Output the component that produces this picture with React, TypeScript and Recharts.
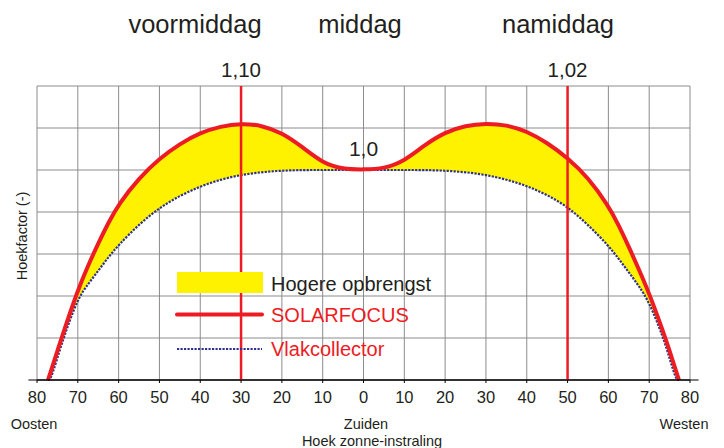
import { ComposedChart, Area, Line, XAxis, YAxis, CartesianGrid, ReferenceLine, ReferenceDot } from 'recharts'

// invalshoek (negatief = oost, positief = west)
const angles = [
  -77.3, -76.7, -75, -73.5, -70, -67.5, -65, -62.5, -60, -55, -50, -45, -40, -35, -30, -25, -20, -15, -10, -5,
  0, 5, 10, 15, 20, 25, 30, 35, 40, 45, 50, 55, 60, 62.5, 65, 67.5, 70, 73.5, 75, 76.6, 77.3,
]
const solarfocus = [
  0, 0.036, 0.139, 0.229, 0.428, 0.544, 0.651, 0.749, 0.838, 0.962, 1.055, 1.125, 1.178, 1.208, 1.222, 1.213, 1.178, 1.11, 1.033, 1.004,
  1.002, 1.006, 1.042, 1.12, 1.18, 1.212, 1.222, 1.215, 1.185, 1.13, 1.058, 0.965, 0.83, 0.738, 0.635, 0.525, 0.413, 0.227, 0.139, 0.042, 0,
]
const vlakcollector = [
  0, 0, 0.105, 0.2, 0.39, 0.456, 0.52, 0.585, 0.643, 0.742, 0.82, 0.878, 0.922, 0.955, 0.977, 0.99, 0.997, 1.0, 1.0, 1.0,
  1.0, 1.0, 1.0, 1.0, 0.997, 0.99, 0.977, 0.955, 0.925, 0.882, 0.825, 0.74, 0.64, 0.578, 0.513, 0.447, 0.372, 0.2, 0.103, 0, 0,
]
const xTicks = [-80, -70, -60, -50, -40, -30, -20, -10, 0, 10, 20, 30, 40, 50, 60, 70, 80]
const yTicks = [0, 0.2, 0.4, 0.6, 0.8, 1.0, 1.2, 1.4]
const markers = [
  { x: -30, label: '1,10' },
  { x: 50, label: '1,02' },
]

const data = angles.map((a, i) => ({
  a,
  solar: solarfocus[i],
  vlak: vlakcollector[i],
  range: [vlakcollector[i], solarfocus[i]],
}))

const RED = '#ed1c24'
const BLUE = '#2e3192'
const YELLOW = '#fff200'
const TEXT = '#231f20'
const FONT = '"Liberation Sans", Arial, sans-serif'

export default function App() {
  return (
    <div style={{ position: 'absolute', left: 0, top: 0, width: 724, height: 448, background: '#fff', fontFamily: FONT }}>
      <ComposedChart width={724} height={448} data={data} margin={{ top: 86, right: 34, left: 37, bottom: 38 }}>
        <CartesianGrid stroke="#8c8c8c" strokeWidth={1} />
        <XAxis
          dataKey="a"
          type="number"
          domain={[-80, 80]}
          ticks={xTicks}
          tickFormatter={(v: number) => String(Math.abs(v))}
          interval={0}
          height={30}
          axisLine={{ stroke: '#000' }}
          tickLine={{ stroke: '#000' }}
          tickSize={3}
          tickMargin={8}
          tick={{ fontSize: 16.5, fill: TEXT, fontFamily: FONT }}
        />
        <YAxis
          type="number"
          domain={[0, 1.4]}
          ticks={yTicks}
          interval={0}
          width={0}
          tickFormatter={() => ''}
          tickLine={false}
          axisLine={{ stroke: '#000' }}
        />
        <Area
          dataKey="range"
          type="basis"
          fill={YELLOW}
          fillOpacity={1}
          stroke="none"
          isAnimationActive={false}
        />
        <Line
          dataKey="vlak"
          type="basis"
          stroke={BLUE}
          strokeWidth={2.2}
          strokeDasharray="2.2 1.3"
          dot={false}
          isAnimationActive={false}
        />
        <Line
          dataKey="solar"
          type="basis"
          stroke={RED}
          strokeWidth={4}
          dot={false}
          isAnimationActive={false}
        />
        <ReferenceLine
          segment={[{ x: -82.1, y: 0 }, { x: 82.1, y: 0 }]}
          ifOverflow="visible"
          stroke="#000"
          strokeWidth={1}
        />
        {markers.map(m => (
          <ReferenceLine
            key={m.x}
            x={m.x}
            stroke={RED}
            strokeWidth={2.5}
            label={{ value: m.label, position: 'top', offset: 9, fontSize: 20.5, fill: TEXT, fontFamily: FONT }}
          />
        ))}
        <ReferenceDot
          x={0}
          y={1.0}
          r={0}
          fill="none"
          stroke="none"
          label={{ value: '1,0', position: 'top', offset: 14, fontSize: 21, fill: TEXT, fontFamily: FONT }}
        />
      </ComposedChart>
      <svg width={724} height={448} style={{ position: 'absolute', left: 0, top: 0, pointerEvents: 'none' }} fontFamily={FONT}>
        <g fontSize={25.5} fill={TEXT} textAnchor="middle">
          <text x={195} y={33}>voormiddag</text>
          <text x={360} y={33}>middag</text>
          <text x={558} y={33}>namiddag</text>
        </g>
        <g fontSize={14.5} fill={TEXT} textAnchor="middle">
          <text x={34} y={429}>Oosten</text>
          <text x={366} y={429}>Zuiden</text>
          <text x={684} y={429}>Westen</text>
          <text x={372} y={446}>Hoek zonne-instraling</text>
          <text x={27} y={236} transform="rotate(-90 27 236)">Hoekfactor (-)</text>
        </g>
        <rect x={177} y={272} width={86} height={21} fill={YELLOW} />
        <line x1={177} x2={262} y1={314.5} y2={314.5} stroke={RED} strokeWidth={4} strokeLinecap="round" />
        <line x1={177} x2={262} y1={349} y2={349} stroke={BLUE} strokeWidth={2.2} strokeDasharray="2.2 1.3" />
        <g fontSize={20}>
          <text x={271} y={291} fill={TEXT}>Hogere opbrengst</text>
          <text x={271} y={322} fill={RED}>SOLARFOCUS</text>
          <text x={271} y={356} fill={RED}>Vlakcollector</text>
        </g>
      </svg>
    </div>
  )
}
